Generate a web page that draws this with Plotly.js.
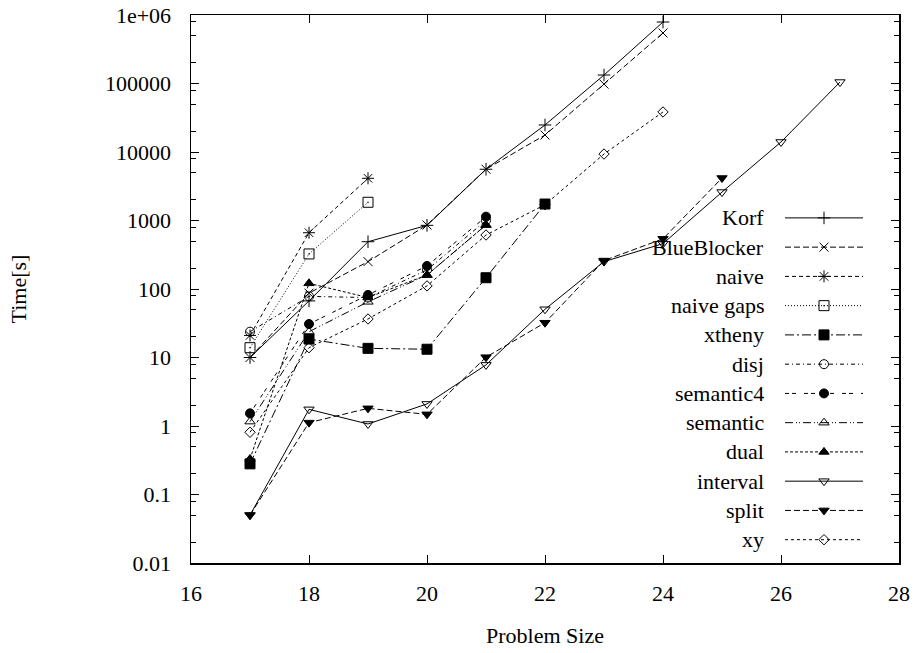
<!DOCTYPE html>
<html>
<head>
<meta charset="utf-8">
<script src="https://cdn.plot.ly/plotly-3.0.1.min.js"></script>
<style>html,body{margin:0;padding:0;background:#fff;}#chart{width:922px;height:653px;}</style>
</head>
<body>
<div id="chart"></div>
<script>
// ---- data ----
const seriesNames = ["Korf","BlueBlocker","naive","naive gaps","xtheny","disj","semantic4","semantic","dual","interval","split","xy"];

const korfX = [17,18,19,20,21,22,23,24];
const korfY = [10,67,490,850,5600,24800,133000,790000];
const blueX = [17,18,19,20,21,22,23,24];
const blueY = [10,87,251,860,5600,17700,98000,546000];
const naiveX = [17,18,19];
const naiveY = [21,663,4130];
const gapsX = [17,18,19];
const gapsY = [13.9,325,1845];
const xthenyX = [17,18,19,20,21,22];
const xthenyY = [0.28,18.6,13.6,13.2,146,1740];
const disjX = [17,18,19,20,21];
const disjY = [23.8,78,75,190,1000];
const sem4X = [17,18,19,20,21];
const sem4Y = [1.53,30.8,82,217,1137];
const semX = [17,18,19,20,21];
const semY = [1.16,23.8,65,160,860];
const dualX = [17,18,19,20,21];
const dualY = [0.33,121,75,160,860];
const intervalX = [17,18,19,20,21,22,23,24,25,26,27];
const intervalY = [0.05,1.75,1.07,2.1,7.8,50.6,251,460,2600,14000,105000];
const splitX = [17,18,19,20,21,22,23,24,25];
const splitY = [0.05,1.12,1.81,1.48,10.1,32.2,260,540,4170];
const xyX = [17,18,19,20,21,22,23,24];
const xyY = [0.81,13.9,36.5,111,614,1700,9340,38400];

const xTickVals = [16,18,20,22,24,26,28];
const yTickVals = [0.01,0.1,1,10,100,1000,10000,100000,1000000];
const yTickText = ["0.01","0.1","1","10","100","1000","10000","100000","1e+06"];

// ---- styles ----
const styles = [
  {dash:"solid", symbol:"cross-thin-open", size:9},
  {dash:"6px,3px", symbol:"x-thin-open", size:9},
  {dash:"4px,3px", symbol:"asterisk-open", size:10},
  {dash:"1px,2px", symbol:"square-open-dot", size:10},
  {dash:"9px,3px,2px,3px", symbol:"square", size:10},
  {dash:"4px,3px,1px,3px", symbol:"circle-open", size:9},
  {dash:"4px,3px,4px,8px", symbol:"circle", size:9},
  {dash:"8px,3px,1px,2px,1px,3px", symbol:"triangle-up-open", size:9},
  {dash:"3px,2px", symbol:"triangle-up", size:9},
  {dash:"solid", symbol:"triangle-down-open", size:9},
  {dash:"6px,3px", symbol:"triangle-down", size:9},
  {dash:"3px,3px", symbol:"diamond-open", size:8}
];
const xs = [korfX,blueX,naiveX,gapsX,xthenyX,disjX,sem4X,semX,dualX,intervalX,splitX,xyX];
const ys = [korfY,blueY,naiveY,gapsY,xthenyY,disjY,sem4Y,semY,dualY,intervalY,splitY,xyY];

const traces = [];
for (let i = 0; i < seriesNames.length; i++) {
  traces.push({
    type:"scatter", mode:"lines+markers", name:seriesNames[i],
    x:xs[i], y:ys[i], showlegend:false,
    line:{color:"#000", width:1, dash:styles[i].dash},
    marker:{symbol:styles[i].symbol, size:styles[i].size, color:"#000", line:{color:"#000", width:1}}
  });
}

// ---- custom gnuplot-style legend (text left, sample right) ----
const legTop = 203, legStep = 29.27;      // pixel offsets inside plot area
const annotations = [];
for (let i = 0; i < seriesNames.length; i++) {
  const py = legTop + i*legStep;
  annotations.push({
    xref:"paper", yref:"paper", x:(766-191)/708, y:1 - py/548.3,
    xanchor:"right", yanchor:"middle", showarrow:false,
    text:seriesNames[i], font:{family:"Liberation Serif, Times New Roman, serif", size:22, color:"#000"}
  });
  traces.push({
    type:"scatter", mode:"lines", x:[594,672], y:[py,py], xaxis:"x2", yaxis:"y2",
    showlegend:false, hoverinfo:"skip",
    line:{color:"#000", width:1, dash:styles[i].dash}
  });
  traces.push({
    type:"scatter", mode:"markers", x:[633], y:[py], xaxis:"x2", yaxis:"y2",
    showlegend:false, hoverinfo:"skip",
    marker:{symbol:styles[i].symbol, size:styles[i].size, color:"#000", line:{color:"#000", width:1}}
  });
}

const minorVals = [];
for (let e = -2; e < 6; e++) { [2,5,8].forEach(m => minorVals.push(m*Math.pow(10,e))); }

const fontFam = "Liberation Serif, Times New Roman, serif";
const layout = {
  width:922, height:653,
  margin:{l:191, r:23, t:15, b:89.7, pad:0},
  paper_bgcolor:"#fff", plot_bgcolor:"#fff",
  font:{family:fontFam, size:22, color:"#000"},
  showlegend:false,
  xaxis:{
    range:[16,28], tickvals:xTickVals, ticks:"inside", ticklen:8, tickwidth:1, tickcolor:"#000",
    showline:true, linecolor:"#000", linewidth:1.5, mirror:"ticks", showgrid:false, zeroline:false,
    ticklabelstandoff:10, tickfont:{family:fontFam, size:22},
    title:{text:"Problem Size", font:{family:fontFam, size:22}, standoff:22}
  },
  yaxis:{
    type:"log", range:[-2,6], tickvals:yTickVals, ticktext:yTickText,
    ticks:"inside", ticklen:8, tickwidth:1, tickcolor:"#000",
    minor:{tickvals:minorVals, ticks:"inside", ticklen:5, tickwidth:1, tickcolor:"#000", showgrid:false},
    showline:true, linecolor:"#000", linewidth:1.5, mirror:"ticks", showgrid:false, zeroline:false,
    ticklabelstandoff:14, tickfont:{family:fontFam, size:22},
    title:{text:"Time[s]", font:{family:fontFam, size:22}, standoff:72}
  },
  xaxis2:{overlaying:"x", range:[0,708], visible:false, fixedrange:true},
  yaxis2:{overlaying:"y", range:[548.3,0], visible:false, fixedrange:true},
  annotations:annotations
};

Plotly.newPlot("chart", traces, layout, {staticPlot:true, displayModeBar:false});
</script>
</body>
</html>
